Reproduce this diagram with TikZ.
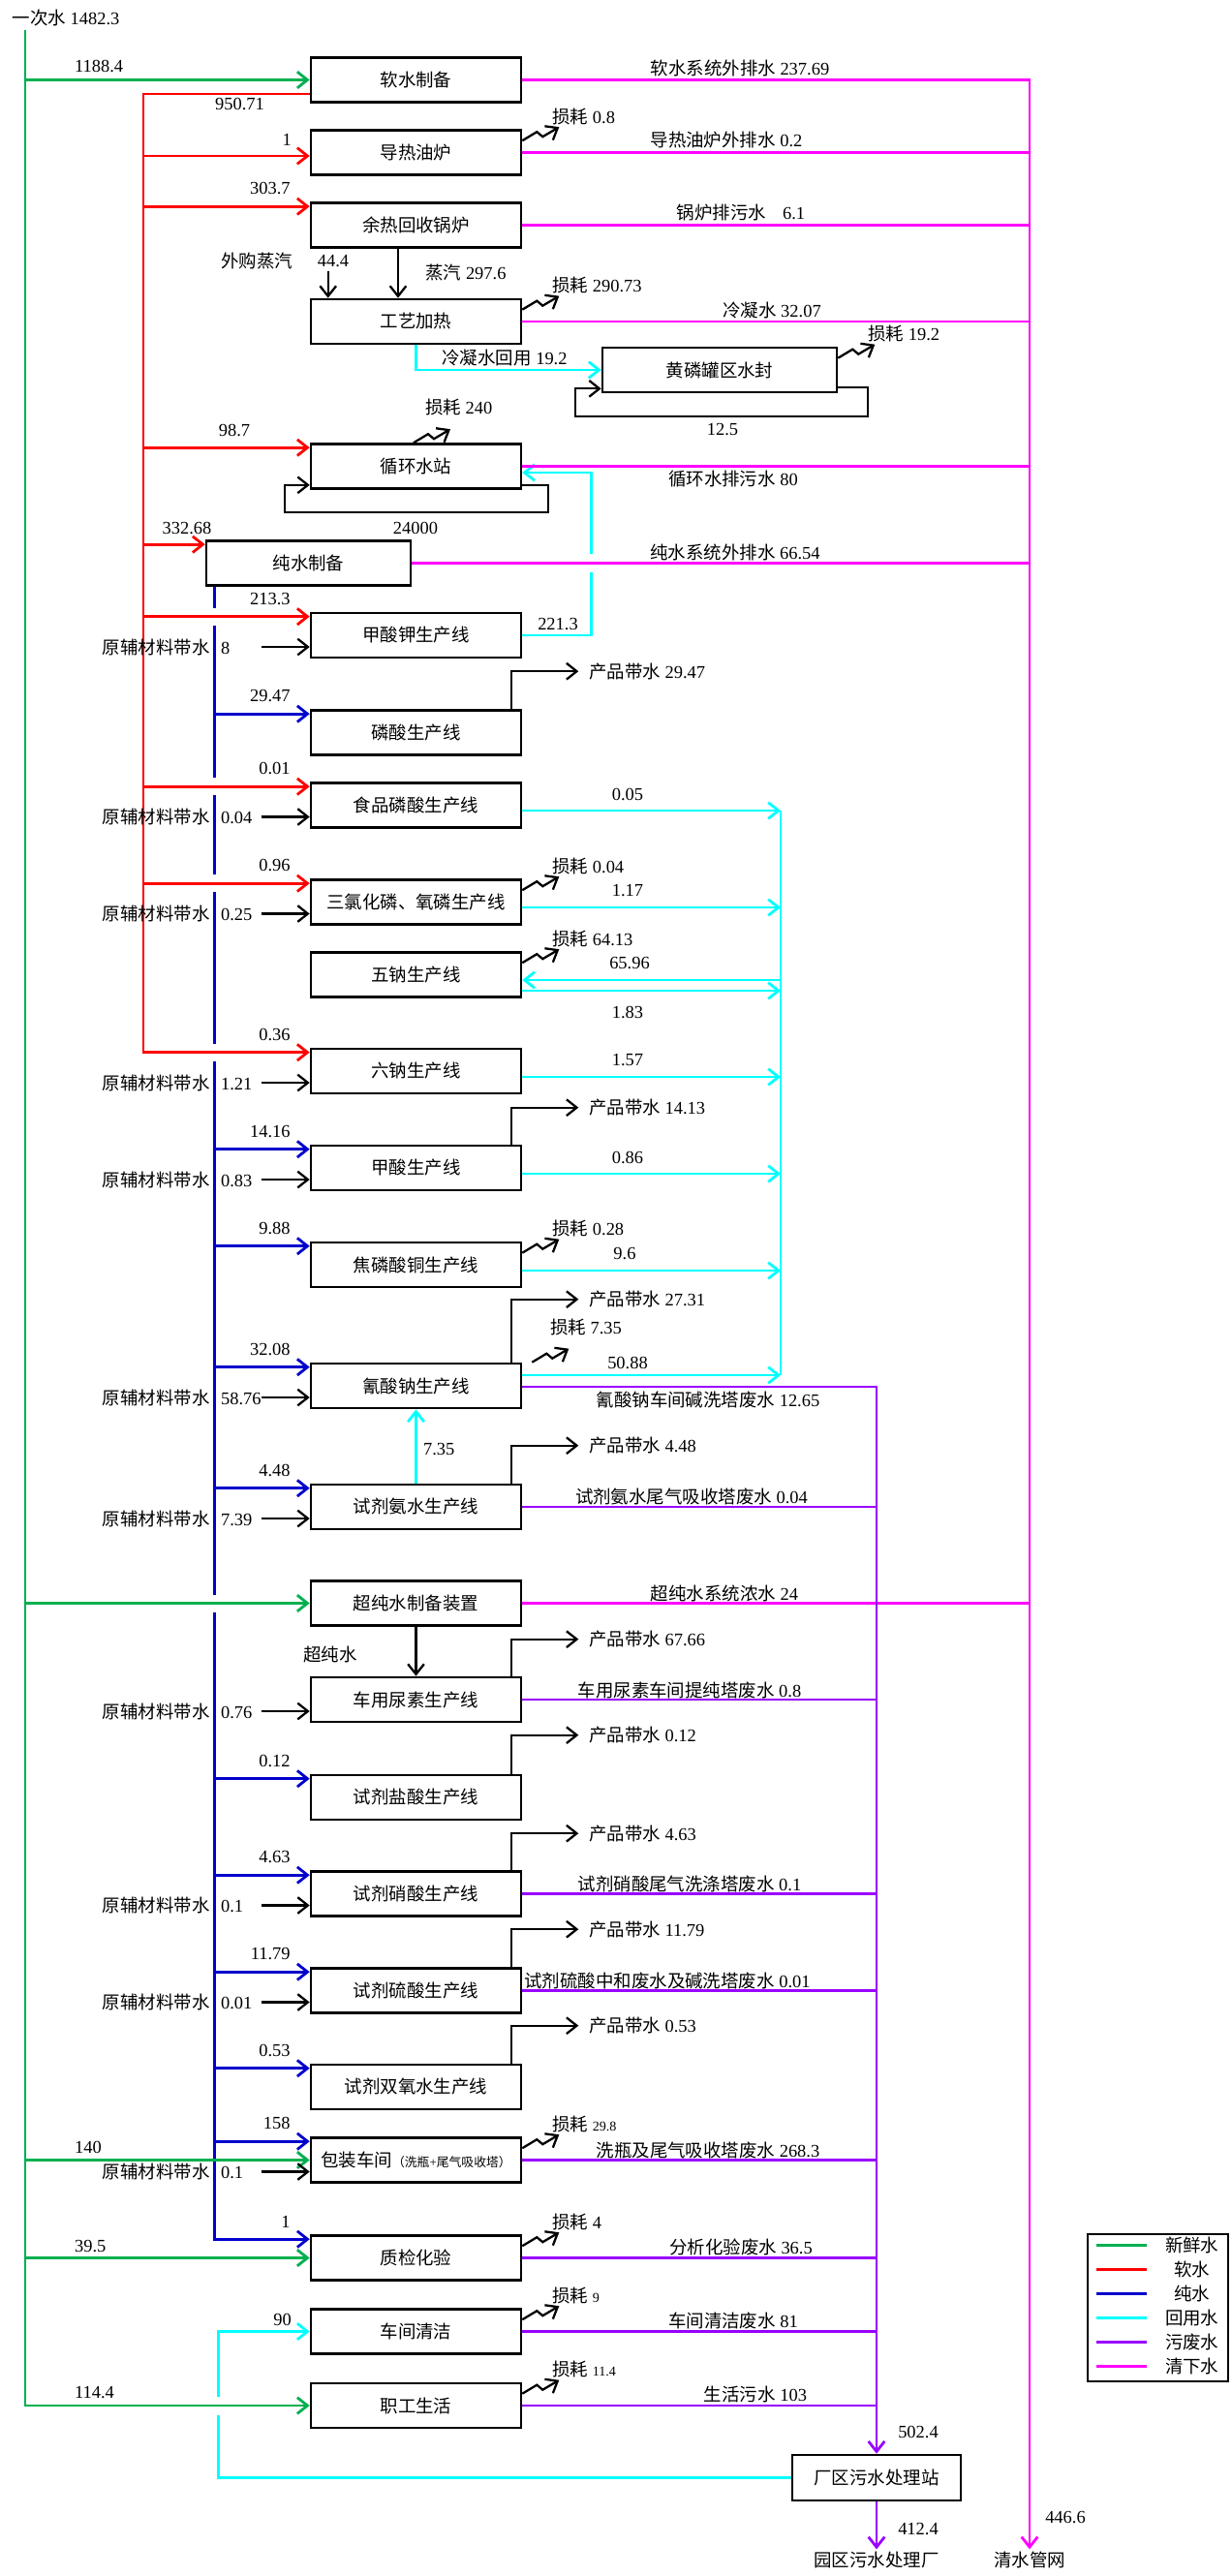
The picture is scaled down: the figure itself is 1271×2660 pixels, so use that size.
\documentclass[tikz,border=0pt]{standalone}
\usepackage{fontspec}
\setmainfont{Liberation Serif}
\newfontfamily\cjkfont{Noto Sans CJK SC}
\usetikzlibrary{arrows.meta,calc}

% CJK characters switch to the CJK family automatically
\XeTeXinterchartokenstate=1
\newXeTeXintercharclass\cjkcls
\newcount\cjkc
\newcommand{\cjkrange}[2]{\cjkc=#1\relax
  \loop\XeTeXcharclass\cjkc=\cjkcls\relax
  \ifnum\cjkc<#2\relax\advance\cjkc by 1\relax\repeat}
\cjkrange{"3000}{"303F}
\cjkrange{"4E00}{"9FFF}
\cjkrange{"FF00}{"FFEF}
\XeTeXinterchartoks 0 \cjkcls={\begingroup\cjkfont}
\XeTeXinterchartoks 4095 \cjkcls={\begingroup\cjkfont}
\XeTeXinterchartoks \cjkcls 0={\endgroup}
\XeTeXinterchartoks \cjkcls 4095={\endgroup}

\definecolor{xgreen}{RGB}{0,176,80}
\definecolor{xred}{RGB}{255,0,0}
\definecolor{xblue}{RGB}{0,0,204}
\definecolor{xcyan}{RGB}{0,255,255}
\definecolor{xpurple}{RGB}{153,0,255}
\definecolor{xmag}{RGB}{255,0,255}

\newcommand{\fs}{\fontsize{10.5}{12}\selectfont}
\newcommand{\sn}{\fontsize{8}{9}\selectfont}
\newcommand{\lossmark}[1]{\draw[blk,->] #1 -- ++(15,-9) -- ++(6,5) -- ++(17,-10);}

\tikzset{
  proc/.style={draw, line width=1.5pt, fill=white, minimum width=4.34cm, minimum height=0.92cm, inner sep=0pt, font=\fs},
  lbl/.style={inner sep=1pt, font=\fs},
  prod/.style={lbl, inner xsep=6pt},
  fresh/.style={draw=xgreen, line width=1.6pt},
  soft/.style={draw=xred, line width=1.6pt},
  pure/.style={draw=xblue, line width=1.6pt},
  reuse/.style={draw=xcyan, line width=1.6pt},
  waste/.style={draw=xpurple, line width=1.6pt},
  clean/.style={draw=xmag, line width=1.6pt},
  blk/.style={draw=black, line width=1.3pt},
  cutgap/.style={draw=white, line width=4pt},
}

\begin{document}
\begin{tikzpicture}[x=0.02cm, y=-0.02cm, >={Straight Barb[length=6pt,width=9.5pt]}]
\useasboundingbox (0,0) rectangle (1271,2660);

% process units
\node[proc] (rs) at (429.5,82.5) {软水制备};
\node[proc] (drl) at (429.5,157.5) {导热油炉};
\node[proc] (yr) at (429.5,232.5) {余热回收锅炉};
\node[proc] (gy) at (429.5,332) {工艺加热};
\node[proc, minimum width=4.84cm] (hl) at (743,382) {黄磷罐区水封};
\node[proc] (xh) at (429.5,481.5) {循环水站};
\node[proc, minimum width=4.22cm] (cs) at (318.5,581.5) {纯水制备};
\node[proc] (jsj) at (429.5,656) {甲酸钾生产线};
\node[proc] (ls) at (429.5,756.5) {磷酸生产线};
\node[proc] (spls) at (429.5,831.5) {食品磷酸生产线};
\node[proc] (slh) at (429.5,931.5) {三氯化磷、氧磷生产线};
\node[proc] (wn) at (429.5,1006.5) {五钠生产线};
\node[proc] (ln) at (429.5,1106) {六钠生产线};
\node[proc] (js) at (429.5,1206) {甲酸生产线};
\node[proc] (jlst) at (429.5,1306) {焦磷酸铜生产线};
\node[proc] (qsn) at (429.5,1431) {氰酸钠生产线};
\node[proc] (ajs) at (429.5,1556) {试剂氨水生产线};
\node[proc] (ccs) at (429.5,1655.5) {超纯水制备装置};
\node[proc] (ns) at (429.5,1755) {车用尿素生产线};
\node[proc] (ys) at (429.5,1856) {试剂盐酸生产线};
\node[proc] (xs) at (429.5,1955.5) {试剂硝酸生产线};
\node[proc] (lsu) at (429.5,2055.5) {试剂硫酸生产线};
\node[proc] (sy) at (429.5,2155) {试剂双氧水生产线};
\node[proc] (bz) at (429.5,2230.5) {包装车间{\fontsize{7.3}{8}\selectfont（洗瓶+尾气吸收塔）}};
\node[proc] (zj) at (429.5,2331.5) {质检化验};
\node[proc] (qj) at (429.5,2407.5) {车间清洁};
\node[proc] (zg) at (429.5,2484) {职工生活};
\node[proc, minimum width=3.48cm, minimum height=0.94cm] (wsz) at (905,2558.5) {厂区污水处理站};
\node[lbl] (qsgw) at (1063,2643) {清水管网};
\node[lbl] (yqc) at (905,2643) {园区污水处理厂};

% mains
\coordinate (gbus) at (26,31);
\coordinate (rbus) at (148,97);
\coordinate (pbus) at ($(cs.south west)+(10,0)$);
\coordinate (ccol) at (806,0);
\path ($(drl.west)+(0,3.5)$) coordinate (drl-in);
\foreach \b in {yr,xh,cs,jsj,spls,slh,ln,ls,js,jlst,qsn,ajs,ys,xs,lsu,sy,bz,zj}
  \path ($(\b.north west)+(0,5)$) coordinate (\b-in);

% pure water
\draw[pure,->] (pbus) |- (zj-in);
\foreach \b in {ls,js,jlst,qsn,ajs,ys,xs,lsu,sy,bz}
  \draw[pure,->] (pbus |- \b-in) -- (\b-in);
\foreach \b in {jsj-in,spls-in,slh-in,ln-in,ccs.west}
  \draw[cutgap] ($(pbus |- \b)+(0,-9)$) -- ($(pbus |- \b)+(0,9)$);

% soft water
\draw[soft,->] (rs.west |- rbus) -- (rbus) |- (ln-in);
\foreach \b in {drl,yr,xh,cs,jsj,spls,slh}
  \draw[soft,->] (rbus |- \b-in) -- (\b-in);

% reused water
\draw[reuse,->] (gy.south) |- (hl.west);
\draw[reuse,->] (jsj.east) -- ++(71,0) |- ($(xh.east)+(0,6.5)$);
\draw[cutgap] ($(jsj.east)+(71,-84)$) -- ++(0,19);
\foreach \b/\d in {spls/5.5,slh/5.5,ln/6,js/6,jlst/6,qsn/-11}
  \path ($(\b.east)+(0,\d)$) coordinate (\b-out);
\path ($(wn.east)+(0,5.5)$) coordinate (wn-i) ($(wn.east)+(0,16.5)$) coordinate (wn-out);
\draw[reuse] (ccol |- spls-out) -- (ccol |- qsn-out);
\foreach \b in {spls,slh,wn,ln,js,jlst,qsn}
  \draw[reuse,->] (\b-out) -- (ccol |- \b-out);
\draw[reuse,->] (ccol |- wn-i) -- (wn-i);
\draw[reuse,->] (ajs.north) -- (qsn.south);
\draw[reuse,->] (wsz.west) -| ($(qj.west)+(-94,0)$) -- (qj.west);
\draw[cutgap] ($(zg.west)+(-94,-9)$) -- ++(0,19);

% fresh water
\node[lbl] (src) at (68,19) {一次水 1482.3};
\draw[fresh,->] (gbus) |- (zg.west);
\foreach \b in {rs,ccs,bz,zj}
  \draw[fresh,->] (gbus |- \b.west) -- (\b.west);

% clean drain
\draw[clean,->] (rs.east) -| (qsgw.north);
\foreach \b in {drl,yr,gy,xh,cs,ccs}
  \draw[clean] (\b.east) -- (qsgw.north |- \b.east);

% waste water
\draw[waste,->] ($(qsn.east)+(0,1)$) -| (wsz.north);
\foreach \b in {ajs,ns,xs,lsu,bz,zj,qj,zg}
  \draw[waste] (\b.east) -- (wsz.north |- \b.east);
\draw[waste,->] (wsz.south) -- (yqc.north);

% steam and loops
\draw[blk,->] ($(yr.south)+(-18.5,0)$) -- ($(gy.north)+(-18.5,0)$);
\draw[blk,->] ($(gy.north west)+(19,-28)$) -- ($(gy.north west)+(19,0)$);
\draw[blk,->] (ccs.south) -- (ns.north);
\draw[blk,->] ($(hl.south east)+(0,-6)$) -- ++(31,0) -- ++(0,30) -- ++(-302,0) -- ++(0,-29) -- ($(hl.south west)+(0,-5)$);
\draw[blk,->] ($(xh.south east)+(0,-5)$) -- ++(27,0) -- ++(0,28) -- ++(-272,0) -- ++(0,-28) -- ($(xh.south west)+(0,-5)$);

% raw material water
\foreach \b/\v in {jsj/8,spls/0.04,slh/0.25,ln/1.21,js/0.83,qsn/58.76,ajs/7.39,ns/0.76,xs/0.1,lsu/0.01,bz/0.1}{
  \node[lbl, anchor=west] (\b-rm) at ($(\b.west)+(-216,12)$) {原辅材料带水\hspace{4pt} \v};
  \draw[blk,->] ($(\b.west)+(-50,12)$) -- ($(\b.west)+(0,12)$);
}

% product water
\foreach \b/\v/\h in {ls/29.47/39,js/14.13/38,qsn/27.31/65,ajs/4.48/39,ns/67.66/38,ys/0.12/40,xs/4.63/38,lsu/11.79/39,sy/0.53/39}{
  \node[prod, anchor=west] (\b-p) at ($(\b.north east)+(58,-\h)$) {产品带水 \v};
  \draw[blk,->] ($(\b.north east)+(-11,0)$) |- (\b-p.west);
}

% losses
\foreach \b/\v in {drl/0.8,gy/290.73,hl/19.2,slh/0.04,wn/64.13,jlst/0.28,bz/{\sn 29.8},zj/4,qj/{\sn 9},zg/{\sn 11.4}}{
  \lossmark{($(\b.north east)+(0,12)$)}
  \node[lbl, anchor=west] (\b-l) at ($(\b.north east)+(29,-13)$) {损耗 \v};
}
\lossmark{($(xh.north)+(-2.5,0)$)}
\node[lbl, anchor=west] (xh-l) at (437,421) {损耗 240};
\lossmark{($(qsn.north east)+(10,0)$)}
\node[lbl, anchor=west] (qsn-l) at (566,1371) {损耗 7.35};

% flow values
\node[lbl, anchor=south west] (g1) at (75,77) {1188.4};
\node[lbl, anchor=south west] (g2) at (75,2226) {140};
\node[lbl, anchor=south west] (g3) at (75,2328) {39.5};
\node[lbl, anchor=south west] (g4) at (75,2479) {114.4};
\node[lbl, anchor=north east] (r0) at (275,99) {950.71};
\node[lbl, anchor=south east] (r1) at (303,153) {1};
\node[lbl] (r3) at (242,444) {98.7};
\node[lbl] (r4) at (193,545) {332.68};
\foreach \b/\v in {yr/303.7,jsj/213.3,spls/0.01,slh/0.96,ln/0.36,ls/29.47,js/14.16,jlst/9.88,qsn/32.08,ajs/4.48,ys/0.12,xs/4.63,lsu/11.79,sy/0.53,bz/158,zj/1}
  \node[lbl, anchor=south east] (\b-v) at ($(\b.north west)+(-18,-5)$) {\v};
\node[lbl, anchor=south east] (qj-v) at (303,2404) {90};
\node[lbl] (wgzq) at (265,270) {外购蒸汽};
\node[lbl] (wgzqv) at (344,270) {44.4};
\node[lbl] (zq) at (481,282) {蒸汽 297.6};
\node[lbl] (lnhy) at (521,370) {冷凝水回用 19.2};
\node[lbl] (hl-r) at (746,444) {12.5};
\node[lbl] (xh-r) at (429,545) {24000};
\node[lbl] (jsj-t) at (576,645) {221.3};
\node[lbl] (rs-t) at (764,70) {软水系统外排水 237.69};
\node[lbl] (drl-t) at (750,145) {导热油炉外排水 0.2};
\node[lbl] (yr-t) at (765,220) {锅炉排污水\hspace{7pt} 6.1};
\node[lbl] (gy-t) at (797,320) {冷凝水 32.07};
\node[lbl] (xh-t) at (757,495) {循环水排污水 80};
\node[lbl] (cs-t) at (759,570) {纯水系统外排水 66.54};
\node[lbl] (spls-t) at (648,820) {0.05};
\node[lbl] (slh-t) at (648,920) {1.17};
\node[lbl] (wn-t) at (650,995) {65.96};
\node[lbl] (wn-t2) at (648,1045) {1.83};
\node[lbl] (ln-t) at (648,1095) {1.57};
\node[lbl] (js-t) at (648,1195) {0.86};
\node[lbl] (jlst-t) at (645,1295) {9.6};
\node[lbl] (qsn-t) at (648,1407) {50.88};
\node[lbl] (qsn-w) at (731,1445) {氰酸钠车间碱洗塔废水 12.65};
\node[lbl, anchor=west] (ajs-r) at (435,1497) {7.35};
\node[lbl] (ajs-w) at (714,1545) {试剂氨水尾气吸收塔废水 0.04};
\node[lbl] (ccs-t) at (748,1645) {超纯水系统浓水 24};
\node[lbl] (ccs-s) at (341,1708) {超纯水};
\node[lbl] (ns-w) at (712,1745) {车用尿素车间提纯塔废水 0.8};
\node[lbl] (xs-w) at (712,1945) {试剂硝酸尾气洗涤塔废水 0.1};
\node[lbl] (lsu-w) at (689,2045) {试剂硫酸中和废水及碱洗塔废水 0.01};
\node[lbl] (bz-w) at (731,2220) {洗瓶及尾气吸收塔废水 268.3};
\node[lbl] (zj-w) at (765,2320) {分析化验废水 36.5};
\node[lbl] (qj-w) at (757,2396) {车间清洁废水 81};
\node[lbl] (zg-w) at (780,2472) {生活污水 103};
\node[lbl] (wsz-i) at (948,2511) {502.4};
\node[lbl] (wsz-o) at (948,2611) {412.4};
\node[lbl] (qsgw-i) at (1100,2599) {446.6};

% legend
\node[draw, line width=1.5pt, minimum width=2.9cm, minimum height=3.04cm] (lgd) at (1195.5,2383) {};
\foreach \c/\t [count=\i] in {xgreen/新鲜水,xred/软水,xblue/纯水,xcyan/回用水,xpurple/污废水,xmag/清下水}{
  \node[lbl] (lg\i) at ($(lgd.north west)+(109,{13+25*(\i-1)})$) {\t};
  \draw[draw=\c, line width=1.6pt] ($(lgd.north west)+(10,{13+25*(\i-1)})$) -- ++(52,0);
}
\end{tikzpicture}
\end{document}
